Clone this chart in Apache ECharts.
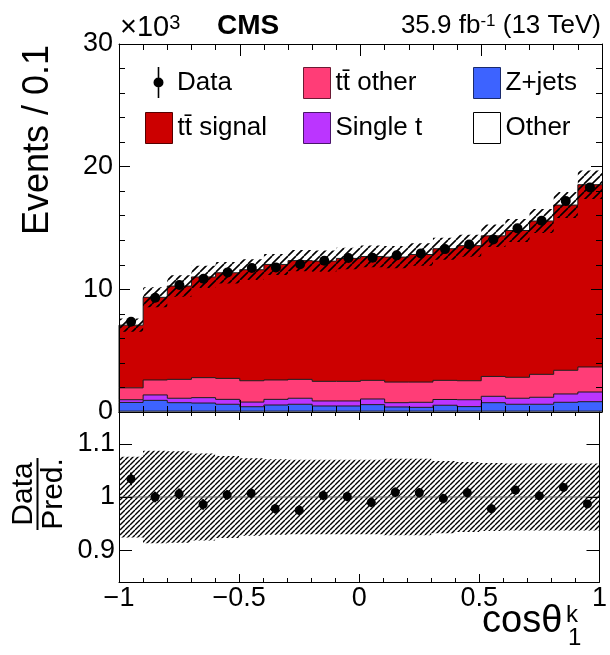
<!DOCTYPE html>
<html>
<head>
<meta charset="utf-8">
<script src="https://cdn.jsdelivr.net/npm/echarts@6/dist/echarts.min.js"></script>
<style>
  html, body { margin: 0; padding: 0; background: #fff; }
  #main { width: 610px; height: 655px; }
</style>
</head>
<body>
<div id="main"></div>
<script>
// bin edges of cos(theta_1^k), 20 bins of width 0.1
const binEdges = [-1, -0.9, -0.8, -0.7, -0.6, -0.5, -0.4, -0.3, -0.2, -0.1, 0,
  0.1, 0.2, 0.3, 0.4, 0.5, 0.6, 0.7, 0.8, 0.9, 1];

// events per bin, in units of 10^3
const dataCounts = [7.36, 9.32, 10.35, 10.87, 11.38, 11.74, 11.79, 12.04, 12.33, 12.55,
  12.58, 12.77, 12.93, 13.28, 13.66, 14.07, 14.97, 15.59, 17.2, 18.31];
const ttSignal = [5.11, 6.74, 7.61, 8.21, 8.61, 9.05, 9.42, 9.68, 9.80, 10.02,
  10.10, 10.19, 10.40, 10.73, 11.01, 11.46, 11.97, 12.50, 13.47, 14.86];
const ttOther = [0.97, 1.22, 1.54, 1.63, 1.71, 1.74, 1.58, 1.54, 1.60, 1.60,
  1.52, 1.68, 1.65, 1.56, 1.55, 1.62, 1.71, 1.87, 1.93, 2.04];
const singleT = [0.22, 0.44, 0.36, 0.44, 0.40, 0.38, 0.46, 0.49, 0.41, 0.41,
  0.46, 0.35, 0.41, 0.47, 0.56, 0.52, 0.49, 0.57, 0.68, 0.79];
const zJets = [0.71, 0.88, 0.69, 0.66, 0.56, 0.36, 0.50, 0.56, 0.42, 0.42,
  0.53, 0.34, 0.31, 0.48, 0.37, 0.69, 0.56, 0.56, 0.72, 0.77];
const otherBkg = [0.07, 0.07, 0.07, 0.07, 0.07, 0.07, 0.07, 0.07, 0.07, 0.07,
  0.07, 0.07, 0.07, 0.07, 0.07, 0.07, 0.07, 0.07, 0.07, 0.07];

// relative uncertainty of the prediction (hatched band)
const predUnc = [0.076, 0.087, 0.086, 0.082, 0.077, 0.073, 0.071, 0.070, 0.070, 0.070,
  0.070, 0.072, 0.072, 0.068, 0.066, 0.064, 0.063, 0.063, 0.063, 0.063];

// data / prediction and its statistical error
const ratio = [1.034, 1.000, 1.006, 0.986, 1.004, 1.007, 0.978, 0.975, 1.003, 1.001,
  0.990, 1.009, 1.008, 0.997, 1.008, 0.978, 1.013, 1.002, 1.018, 0.987];
const ratioErr = [0.012, 0.010, 0.010, 0.010, 0.009, 0.009, 0.009, 0.009, 0.009, 0.009,
  0.009, 0.009, 0.009, 0.009, 0.009, 0.008, 0.008, 0.008, 0.008, 0.007];

const ratioTicks = [0.9, 1, 1.1];

const FONT = '"Liberation Sans", Arial, Helvetica, sans-serif';

const layers = [
  { name: "Other", values: otherBkg, color: "#ffffff" },
  { name: "Z+jets", values: zJets, color: "#3d63ff" },
  { name: "Single t", values: singleT, color: "#bb35ff" },
  { name: "tt\u0304 other", values: ttOther, color: "#ff3d77" },
  { name: "tt\u0304 signal", values: ttSignal, color: "#cc0000" },
];

const binCenters = dataCounts.map((v, i) => (binEdges[i] + binEdges[i + 1]) / 2);

// cumulative stack
const stackBase = [];
const stackTop = [];
let running = dataCounts.map(() => 0);
layers.forEach((l) => {
  stackBase.push(running.slice());
  running = running.map((r, i) => r + l.values[i]);
  stackTop.push(running.slice());
});
const total = running;

function makeHatch(period, lw) {
  const c = document.createElement("canvas");
  c.width = period;
  c.height = period;
  const ctx = c.getContext("2d");
  ctx.strokeStyle = "#000";
  ctx.lineWidth = lw;
  ctx.beginPath();
  for (let k = -1; k <= 1; k++) {
    ctx.moveTo(k * period, period);
    ctx.lineTo(k * period + period, 0);
  }
  ctx.stroke();
  return { image: c, repeat: "repeat" };
}
const hatchTop = makeHatch(8, 1.6);
const hatchRatio = makeHatch(5, 1.4);

// one polygon per layer, drawn when the first item is rendered
function stackLayer(layer, k) {
  return {
    name: layer.name,
    type: "custom",
    xAxisIndex: 0,
    yAxisIndex: 0,
    z: 2,
    itemStyle: { color: layer.color },
    data: binCenters.map((c, i) => [c, stackTop[k][i]]),
    encode: { x: 0, y: 1 },
    renderItem: (params, api) => {
      if (params.dataIndex !== 0) return null;
      const n = binCenters.length;
      const topPts = [];
      const basePts = [];
      for (let i = 0; i < n; i++) {
        topPts.push(api.coord([binEdges[i], stackTop[k][i]]));
        topPts.push(api.coord([binEdges[i + 1], stackTop[k][i]]));
        basePts.push(api.coord([binEdges[i], stackBase[k][i]]));
        basePts.push(api.coord([binEdges[i + 1], stackBase[k][i]]));
      }
      const poly = topPts.concat(basePts.slice().reverse());
      const outline = [basePts[0]].concat(topPts);
      return {
        type: "group",
        children: [
          { type: "polygon", shape: { points: poly }, style: { fill: layer.color } },
          {
            type: "polyline",
            z2: 5,
            shape: { points: outline },
            style: { stroke: "#1a1a1a", lineWidth: 1, fill: null },
          },
        ],
      };
    },
  };
}

function bandSeries(xi, yi, lo, hi, pattern) {
  return {
    type: "custom",
    xAxisIndex: xi,
    yAxisIndex: yi,
    z: 3,
    silent: true,
    data: binCenters.map((c, i) => [c, hi[i]]),
    encode: { x: 0, y: 1 },
    renderItem: (params, api) => {
      if (params.dataIndex !== 0) return null;
      const upper = [];
      const lower = [];
      for (let i = 0; i < binCenters.length; i++) {
        upper.push(api.coord([binEdges[i], hi[i]]));
        upper.push(api.coord([binEdges[i + 1], hi[i]]));
        lower.push(api.coord([binEdges[i], lo[i]]));
        lower.push(api.coord([binEdges[i + 1], lo[i]]));
      }
      return {
        type: "polygon",
        shape: { points: upper.concat(lower.reverse()) },
        style: { fill: pattern },
      };
    },
  };
}

const minus = (v) => String(v).replace("-", "\u2212");

function xAxisCfg(grid, position, major, minor, labels) {
  return {
    type: "value",
    gridIndex: grid,
    position: position,
    min: -1,
    max: 1,
    interval: 0.5,
    z: 10,
    axisLine: { show: true, onZero: false, lineStyle: { color: "#000", width: 1 } },
    axisTick: { show: true, inside: true, length: major, lineStyle: { color: "#000", width: 1 } },
    minorTick: { show: true, splitNumber: 5, length: minor, lineStyle: { color: "#000", width: 1 } },
    splitLine: { show: false },
    minorSplitLine: { show: false },
    axisLabel: labels
      ? { show: true, margin: 3, fontSize: 27, fontFamily: FONT, color: "#000", formatter: minus }
      : { show: false },
  };
}

const topYAxis = (position, labels) => ({
  type: "value",
  gridIndex: 0,
  position: position,
  min: 0,
  max: 30,
  interval: 10,
  z: 10,
  axisLine: { show: true, onZero: false, lineStyle: { color: "#000", width: 1 } },
  axisTick: { show: true, inside: true, length: 11, lineStyle: { color: "#000", width: 1 } },
  minorTick: { show: true, splitNumber: 5, length: 6, lineStyle: { color: "#000", width: 1 } },
  splitLine: { show: false },
  minorSplitLine: { show: false },
  axisLabel: labels
    ? { show: true, margin: 6, fontSize: 27, fontFamily: FONT, color: "#000" }
    : { show: false },
});

const ratioYAxis = (position, labels) => ({
  type: "value",
  gridIndex: 1,
  position: position,
  min: 0.84,
  max: 1.16,
  z: 10,
  axisLine: { show: true, onZero: false, lineStyle: { color: "#000", width: 1 } },
  axisTick: { show: true, inside: true, length: 13, customValues: ratioTicks,
    lineStyle: { color: "#000", width: 1 } },
  splitLine: { show: false },
  axisLabel: labels
    ? { show: true, margin: 4, fontSize: 27, fontFamily: FONT, color: "#000", customValues: ratioTicks }
    : { show: false, customValues: ratioTicks },
});

const legendBase = {
  orient: "horizontal",
  padding: 0,
  itemWidth: 27,
  itemHeight: 31,
  selectedMode: false,
  symbolKeepAspect: true,
  textStyle: { fontSize: 26, fontFamily: FONT, color: "#000" },
};
const boxStyle = (color, border) => ({ color: color, borderColor: border, borderWidth: 1 });
// marker with error bar; two zero-area stubs stretch the box to 27 x 31
const dataIcon = "path://M0,15.5L0,15.51Z M27,15.5L27,15.51Z " +
  "M12.7,0H14.3V31H12.7Z M13.5,10.5A5,5,0,1,1,13.5,20.5A5,5,0,1,1,13.5,10.5Z";

const chart = echarts.init(document.getElementById("main"), null, { renderer: "canvas" });

const option = {
  animation: false,
  backgroundColor: "#fff",
  textStyle: { fontFamily: FONT },
  grid: [
    { left: 119, top: 44, width: 483, height: 368, show: false },
    { left: 119, top: 412, width: 483, height: 170, show: false },
  ],
  xAxis: [
    xAxisCfg(0, "bottom", 12, 6, false),
    xAxisCfg(0, "top", 12, 6, false),
    xAxisCfg(1, "bottom", 8, 4, true),
    xAxisCfg(1, "top", 8, 4, false),
  ],
  yAxis: [
    topYAxis("left", true),
    topYAxis("right", false),
    ratioYAxis("left", true),
    ratioYAxis("right", false),
  ],
  legend: [
    Object.assign({}, legendBase, { left: 145, top: 67,
      data: [{ name: "Data", icon: dataIcon, itemStyle: { color: "#000", borderWidth: 0 } }] }),
    Object.assign({}, legendBase, { left: 303, top: 67,
      data: [{ name: "tt\u0304 other", icon: "rect", itemStyle: boxStyle("#ff3d77", "#6b1a33") }] }),
    Object.assign({}, legendBase, { left: 473, top: 67,
      data: [{ name: "Z+jets", icon: "rect", itemStyle: boxStyle("#3d63ff", "#1a2a6b") }] }),
    Object.assign({}, legendBase, { left: 145, top: 112,
      data: [{ name: "tt\u0304 signal", icon: "rect", itemStyle: boxStyle("#cc0000", "#550000") }] }),
    Object.assign({}, legendBase, { left: 303, top: 112,
      data: [{ name: "Single t", icon: "rect", itemStyle: boxStyle("#bb35ff", "#4a156b") }] }),
    Object.assign({}, legendBase, { left: 473, top: 112,
      data: [{ name: "Other", icon: "rect", itemStyle: boxStyle("#ffffff", "#000000") }] }),
  ],
  graphic: [
    {
      type: "text", x: 38, y: 45, rotation: Math.PI / 2,
      style: { text: "Events / 0.1", font: "36px " + FONT, fill: "#000",
        align: "right", verticalAlign: "middle" },
    },
    {
      type: "text", x: 120, y: 28,
      style: {
        text: "{a|\u00d710}{b|3}", fill: "#000", align: "left", verticalAlign: "middle",
        font: "29px " + FONT,
        rich: {
          a: { fontSize: 29, fontFamily: FONT, color: "#000" },
          b: { fontSize: 20, fontFamily: FONT, color: "#000", verticalAlign: "top" },
        },
      },
    },
    {
      type: "text", x: 217, y: 26,
      style: { text: "CMS", font: "bold 28px " + FONT, fill: "#000", align: "left", verticalAlign: "middle" },
    },
    {
      type: "text", x: 601, y: 26,
      style: {
        text: "{a|35.9 fb}{b|-1}{a| (13 TeV)}", fill: "#000", align: "right", verticalAlign: "middle",
        font: "26px " + FONT,
        rich: {
          a: { fontSize: 26, fontFamily: FONT, color: "#000" },
          b: { fontSize: 17, fontFamily: FONT, color: "#000", verticalAlign: "top" },
        },
      },
    },
    {
      type: "text", x: 24, y: 494, rotation: Math.PI / 2,
      style: { text: "Data", font: "30px " + FONT, fill: "#000", align: "center", verticalAlign: "middle" },
    },
    {
      type: "line", shape: { x1: 37.5, y1: 458, x2: 37.5, y2: 530 },
      style: { stroke: "#000", lineWidth: 2 },
    },
    {
      type: "text", x: 54, y: 494, rotation: Math.PI / 2,
      style: { text: "Pred.", font: "30px " + FONT, fill: "#000", align: "center", verticalAlign: "middle" },
    },
    {
      type: "text", x: 482, y: 622,
      style: { text: "cos\u03b8", font: "38px " + FONT, fill: "#000", align: "left", verticalAlign: "middle" },
    },
    {
      type: "text", x: 566, y: 615,
      style: { text: "k", font: "24px " + FONT, fill: "#000", align: "left", verticalAlign: "middle" },
    },
    {
      type: "text", x: 568, y: 638,
      style: { text: "1", font: "24px " + FONT, fill: "#000", align: "left", verticalAlign: "middle" },
    },
  ],
  series: [
    ...layers.map((l, k) => stackLayer(l, k)),
    bandSeries(0, 0,
      total.map((t, i) => t * (1 - predUnc[i])),
      total.map((t, i) => t * (1 + predUnc[i])), hatchTop),
    {
      name: "Data",
      type: "scatter",
      xAxisIndex: 0,
      yAxisIndex: 0,
      z: 4,
      symbol: "circle",
      symbolSize: 10,
      itemStyle: { color: "#000", opacity: 1 },
      data: binCenters.map((c, i) => [c, dataCounts[i]]),
    },
    bandSeries(2, 2,
      predUnc.map((u) => 1 - u),
      predUnc.map((u) => 1 + u), hatchRatio),
    {
      type: "line",
      xAxisIndex: 2,
      yAxisIndex: 2,
      z: 3,
      silent: true,
      showSymbol: false,
      lineStyle: { color: "#666", width: 1 },
      data: [[-1, 1], [1, 1]],
    },
    {
      type: "custom",
      xAxisIndex: 2,
      yAxisIndex: 2,
      z: 4,
      silent: true,
      data: binCenters.map((c, i) => [c, ratio[i]]),
      encode: { x: 0, y: 1 },
      renderItem: (params, api) => {
        const i = params.dataIndex;
        const a = api.coord([binCenters[i], ratio[i] - ratioErr[i]]);
        const b = api.coord([binCenters[i], ratio[i] + ratioErr[i]]);
        return {
          type: "line",
          shape: { x1: a[0], y1: a[1], x2: b[0], y2: b[1] },
          style: { stroke: "#000", lineWidth: 2 },
        };
      },
    },
    {
      type: "scatter",
      xAxisIndex: 2,
      yAxisIndex: 2,
      z: 5,
      symbol: "circle",
      symbolSize: 9,
      itemStyle: { color: "#000", opacity: 1 },
      data: binCenters.map((c, i) => [c, ratio[i]]),
    },
  ],
};

chart.setOption(option);
</script>
</body>
</html>
